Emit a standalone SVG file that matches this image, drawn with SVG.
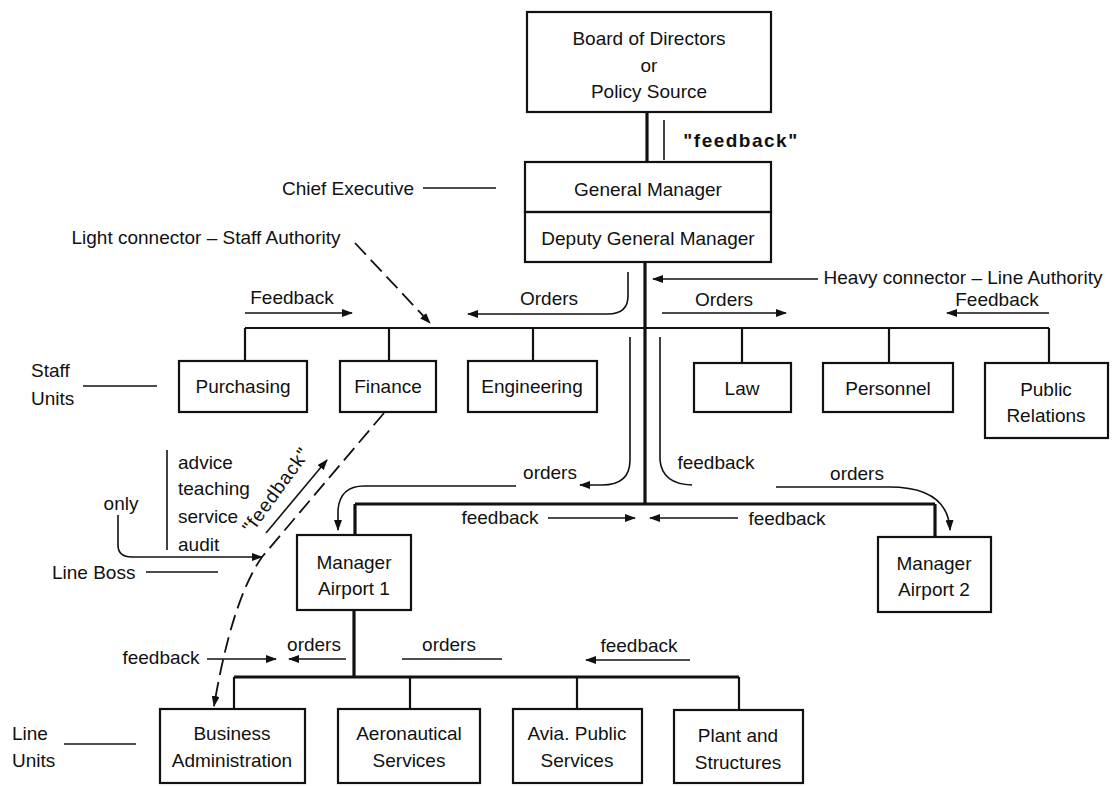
<svg xmlns="http://www.w3.org/2000/svg" width="1114" height="786" viewBox="0 0 1114 786">
<defs>
<marker id="arr" markerUnits="userSpaceOnUse" markerWidth="11" markerHeight="8" refX="10" refY="4" orient="auto">
<path d="M0,0 L11,4 L0,8 z" fill="#111"/>
</marker>
<style>
text{font-family:"Liberation Sans",Arial,sans-serif;font-size:19px;fill:#111;dominant-baseline:central}
.c{text-anchor:middle}
.box{fill:none;stroke:#111;stroke-width:2.2}
.heavy{fill:none;stroke:#111;stroke-width:3.2}
.mid{fill:none;stroke:#111;stroke-width:2.2}
.thin{fill:none;stroke:#111;stroke-width:1.6}
.dash{fill:none;stroke:#111;stroke-width:1.8;stroke-dasharray:16 7}
.a{marker-end:url(#arr)}
</style>
</defs>
<rect width="1114" height="786" fill="#fff"/>

<g id="connectors">
<!-- board to GM -->
<line class="heavy" x1="647" y1="112" x2="647" y2="162"/>
<line class="thin" x1="664" y1="120" x2="664" y2="160"/>
<!-- main trunk -->
<line class="heavy" x1="645" y1="262" x2="645" y2="504"/>
<!-- staff bar -->
<line class="mid" x1="245" y1="328" x2="1049" y2="328"/>
<line class="mid" x1="245" y1="328" x2="245" y2="361"/>
<line class="mid" x1="389" y1="328" x2="389" y2="361"/>
<line class="mid" x1="533" y1="328" x2="533" y2="361"/>
<line class="mid" x1="742" y1="328" x2="742" y2="363"/>
<line class="mid" x1="889" y1="328" x2="889" y2="363"/>
<line class="mid" x1="1049" y1="328" x2="1049" y2="363"/>
<!-- airport bar -->
<line class="heavy" x1="355" y1="504" x2="935" y2="504"/>
<line class="heavy" x1="355" y1="504" x2="355" y2="535"/>
<line class="heavy" x1="935" y1="504" x2="935" y2="537"/>
<!-- line units -->
<line class="heavy" x1="354" y1="610" x2="354" y2="677"/>
<line class="heavy" x1="234" y1="677" x2="739" y2="677"/>
<line class="mid" x1="234" y1="677" x2="234" y2="709"/>
<line class="mid" x1="410" y1="677" x2="410" y2="709"/>
<line class="mid" x1="577" y1="677" x2="577" y2="709"/>
<line class="mid" x1="739" y1="677" x2="739" y2="710"/>

<!-- pointers -->
<line class="thin" x1="423" y1="188" x2="496" y2="188"/>
<line class="dash a" x1="355" y1="243" x2="430" y2="323"/>
<line class="thin a" x1="818" y1="279" x2="653" y2="279"/>
<line class="thin" x1="83" y1="386" x2="157" y2="386"/>
<line class="thin" x1="146" y1="572" x2="218" y2="572"/>
<line class="thin" x1="64" y1="744" x2="136" y2="744"/>

<!-- staff level arrows -->
<line class="thin a" x1="245" y1="313" x2="352" y2="313"/>
<path class="thin a" d="M628,272 L628,296 Q628,314 608,314 L468,314"/>
<line class="thin a" x1="662" y1="313" x2="786" y2="313"/>
<line class="thin a" x1="1049" y1="313" x2="947" y2="313"/>

<!-- orders / feedback to airports -->
<path class="thin a" d="M630,337 L630,460 Q630,485 602,485 L580,485"/>
<path class="thin" d="M660,337 L660,460 Q662,484 692,485"/>
<path class="thin a" d="M516,486 L364,486 Q340,486 338,510 L338,530"/>
<path class="thin a" d="M776,487 L889,487 Q948,487 950,530"/>
<line class="thin a" x1="548" y1="518" x2="635" y2="518"/>
<line class="thin a" x1="738" y1="518" x2="650" y2="518"/>

<!-- advice bracket and only -->
<line class="thin" x1="167" y1="450" x2="167" y2="550"/>
<path class="thin a" d="M118,515 L118,545 Q118,557 132,557 L262,557"/>

<!-- staff feedback dashed -->
<path class="dash a" d="M384,413 L262,557 Q232,600 214,706"/>
<line class="thin a" x1="266" y1="533" x2="327" y2="460"/>

<!-- bottom arrows -->
<line class="thin a" x1="207" y1="659" x2="276" y2="659"/>
<line class="thin a" x1="346" y1="659" x2="289" y2="659"/>
<line class="thin" x1="402" y1="659" x2="502" y2="659"/>
<line class="thin a" x1="690" y1="660" x2="586" y2="660"/>
</g>

<g id="board">
<rect class="box" x="527" y="12" width="244" height="100"/>
<text class="c" x="649" y="38">Board of Directors</text>
<text class="c" x="649" y="65">or</text>
<text class="c" x="649" y="91">Policy Source</text>
</g>
<g id="gm">
<rect class="box" x="525" y="162" width="246" height="50"/>
<text class="c" x="648" y="189">General Manager</text>
</g>
<g id="dgm">
<rect class="box" x="525" y="212" width="246" height="50"/>
<text class="c" x="648" y="238">Deputy General Manager</text>
</g>
<g id="purchasing"><rect class="box" x="179" y="361" width="128" height="51"/><text class="c" x="243" y="386">Purchasing</text></g>
<g id="finance"><rect class="box" x="340" y="361" width="96" height="51"/><text class="c" x="388" y="386">Finance</text></g>
<g id="engineering"><rect class="box" x="468" y="361" width="129" height="51"/><text class="c" x="532" y="386">Engineering</text></g>
<g id="law"><rect class="box" x="694" y="363" width="97" height="49"/><text class="c" x="742" y="388">Law</text></g>
<g id="personnel"><rect class="box" x="823" y="363" width="130" height="49"/><text class="c" x="888" y="388">Personnel</text></g>
<g id="pr"><rect class="box" x="985" y="363" width="123" height="75"/><text class="c" x="1046" y="389">Public</text><text class="c" x="1046" y="415">Relations</text></g>
<g id="airport1"><rect class="box" x="297" y="535" width="114" height="75"/><text class="c" x="354" y="562">Manager</text><text class="c" x="354" y="588">Airport 1</text></g>
<g id="airport2"><rect class="box" x="878" y="537" width="113" height="75"/><text class="c" x="934" y="563">Manager</text><text class="c" x="934" y="589">Airport 2</text></g>
<g id="busadmin"><rect class="box" x="160" y="709" width="145" height="74"/><text class="c" x="232" y="733">Business</text><text class="c" x="232" y="760">Administration</text></g>
<g id="aero"><rect class="box" x="338" y="709" width="142" height="74"/><text class="c" x="409" y="733">Aeronautical</text><text class="c" x="409" y="760">Services</text></g>
<g id="avia"><rect class="box" x="513" y="709" width="129" height="74"/><text class="c" x="577" y="733">Avia. Public</text><text class="c" x="577" y="760">Services</text></g>
<g id="plant"><rect class="box" x="674" y="710" width="129" height="73"/><text class="c" x="738" y="735">Plant and</text><text class="c" x="738" y="762">Structures</text></g>

<g id="labels">
<text class="c" x="741" y="140" style="font-weight:bold;letter-spacing:1.5px">"feedback"</text>
<text class="c" x="348" y="188">Chief Executive</text>
<text class="c" x="206" y="237">Light connector – Staff Authority</text>
<text class="c" x="963" y="277">Heavy connector – Line Authority</text>
<text class="c" x="292" y="297">Feedback</text>
<text class="c" x="549" y="298">Orders</text>
<text class="c" x="724" y="299">Orders</text>
<text class="c" x="997" y="299">Feedback</text>
<text x="31" y="370">Staff</text>
<text x="31" y="398">Units</text>
<text x="178" y="462">advice</text>
<text x="178" y="488">teaching</text>
<text x="178" y="516">service</text>
<text x="178" y="544">audit</text>
<text class="c" x="121" y="503">only</text>
<text x="52" y="572">Line Boss</text>
<text class="c" x="276" y="490" transform="rotate(-54 276 490)" style="letter-spacing:1px">"feedback"</text>
<text class="c" x="550" y="472">orders</text>
<text class="c" x="716" y="462">feedback</text>
<text class="c" x="857" y="473">orders</text>
<text class="c" x="500" y="517">feedback</text>
<text class="c" x="787" y="518">feedback</text>
<text class="c" x="161" y="657">feedback</text>
<text class="c" x="314" y="644">orders</text>
<text class="c" x="449" y="644">orders</text>
<text class="c" x="639" y="645">feedback</text>
<text x="12" y="733">Line</text>
<text x="12" y="760">Units</text>
</g>
</svg>
